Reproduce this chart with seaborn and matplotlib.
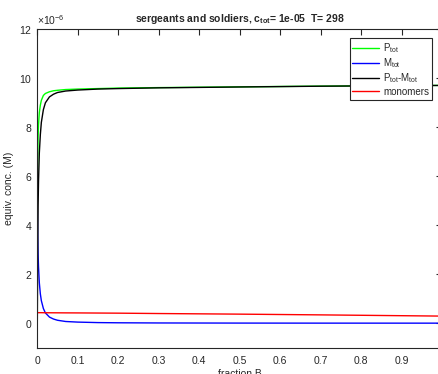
import matplotlib
matplotlib.use("Agg")
import matplotlib.pyplot as plt
import matplotlib.ticker as mticker
import pandas as pd
import seaborn as sns

# fraction of B (x axis)
frac_b = [0, 0.001, 0.002, 0.003, 0.005, 0.0075, 0.01, 0.015, 0.02, 0.03,
          0.04, 0.05, 0.07, 0.1, 0.15, 0.2, 0.3, 0.5, 0.7, 1.0]

# equivalent concentrations, in units of 1e-6 M
p_tot = [4.9, 6.6, 7.6, 8.1, 8.6, 8.9, 9.1, 9.3, 9.38, 9.45,
         9.49, 9.51, 9.54, 9.56, 9.58, 9.6, 9.62, 9.65, 9.68, 9.71]
m_tot = [4.9, 3.6, 2.8, 2.3, 1.65, 1.2, 0.92, 0.6, 0.42, 0.25,
         0.17, 0.12, 0.07, 0.045, 0.025, 0.017, 0.01, 0.005, 0.003, 0.002]
p_minus_m = [0.0, 3.0, 4.8, 5.8, 6.95, 7.7, 8.2, 8.72, 9.0, 9.24,
             9.35, 9.42, 9.48, 9.52, 9.56, 9.58, 9.61, 9.645, 9.677, 9.708]
monomers = [0.43, 0.43, 0.43, 0.43, 0.43, 0.43, 0.43, 0.428, 0.427, 0.426,
            0.425, 0.424, 0.422, 0.42, 0.415, 0.41, 0.395, 0.37, 0.34, 0.29]

series_names = ['P$_{tot}$', 'M$_{tot}$', 'P$_{tot}$-M$_{tot}$', 'monomers']
series_colors = ['#00ff00', '#0000ff', '#000000', '#ff0000']

frames = []
for name, vals in zip(series_names, [p_tot, m_tot, p_minus_m, monomers]):
    frames.append(pd.DataFrame({'fraction': frac_b,
                                'conc': [v * 1e-6 for v in vals],
                                'series': name}))
df = pd.concat(frames, ignore_index=True)

sns.set_style("white")
plt.rcParams['font.family'] = ['Liberation Sans', 'DejaVu Sans']
plt.rcParams['mathtext.default'] = 'regular'

grey = '#262626'
fig = plt.figure(figsize=(4.38, 3.74), dpi=100)
ax = fig.add_axes([37.3 / 438, 26.3 / 374, 405 / 438, 318.4 / 374])

sns.lineplot(data=df, x='fraction', y='conc', hue='series',
             hue_order=series_names, palette=series_colors,
             linewidth=1.0, ax=ax, legend=True)

ax.set_xlim(0, 1)
ax.set_ylim(-1e-6, 12e-6)
ax.set_xticks([0, 0.1, 0.2, 0.3, 0.4, 0.5, 0.6, 0.7, 0.8, 0.9])
ax.set_xticklabels(['0', '0.1', '0.2', '0.3', '0.4', '0.5', '0.6', '0.7', '0.8', '0.9'])
ax.set_yticks([0, 2e-6, 4e-6, 6e-6, 8e-6, 10e-6, 12e-6])
fmt = mticker.ScalarFormatter(useMathText=True)
fmt.set_powerlimits((-6, -6))
ax.yaxis.set_major_formatter(fmt)
ax.yaxis.get_offset_text().set_fontsize(7.5)
ax.yaxis.get_offset_text().set_color(grey)

for s in ax.spines.values():
    s.set_visible(True)
    s.set_color(grey)
    s.set_linewidth(0.8)
ax.tick_params(axis='both', direction='in', length=4, width=0.8, colors=grey,
               labelsize=7.5, top=True, right=True)
ax.tick_params(axis='x', pad=6)
ax.tick_params(axis='y', pad=3.5)

ax.set_xlabel('fraction B', fontsize=7.5, color=grey, labelpad=2)
ax.set_ylabel('equiv. conc. (M)', fontsize=7.5, color=grey, labelpad=3.5)
ax.set_title('sergeants and soldiers, c$_{tot}$= 1e-05  T= 298',
             fontsize=7.5, fontweight='bold', pad=5)

handles, labels = ax.get_legend_handles_labels()
leg = ax.legend(handles, labels, loc='upper right',
                bbox_to_anchor=(432 / 438, 1 - 38 / 374),
                bbox_transform=fig.transFigure, fontsize=7,
                frameon=True, fancybox=False, framealpha=1,
                edgecolor=grey, handlelength=2.7, labelspacing=0.15,
                borderpad=0.3, handletextpad=0.45, borderaxespad=0)
leg.get_frame().set_linewidth(0.8)
for t in leg.get_texts():
    t.set_color(grey)

fig.savefig('out.png', dpi=100)
